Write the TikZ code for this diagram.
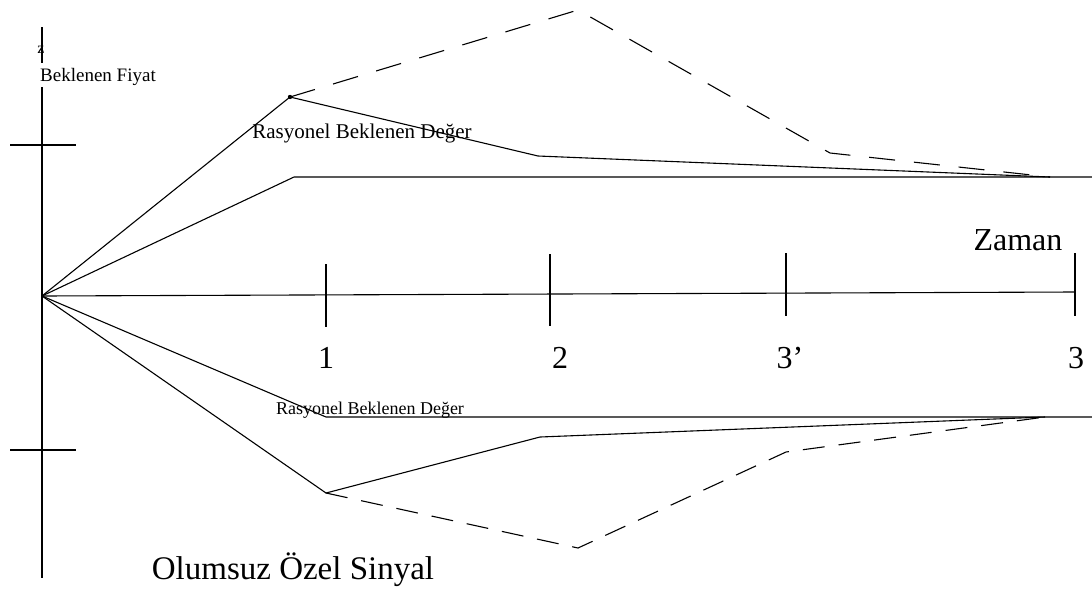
\documentclass[tikz,border=0pt]{standalone}
\usepackage{fontspec}
\setmainfont{Liberation Serif}
\begin{document}
\begin{tikzpicture}[x=1pt,y=-1pt,
  ln/.style={line width=1.1pt,black},
  dsh/.style={line width=1.1pt,black,dash pattern=on 26pt off 19pt},
  dshb/.style={line width=1.1pt,black,dash pattern=on 22pt off 14pt},
  lbl/.style={inner sep=0pt,anchor=center,text=black}]
\useasboundingbox (0,0) rectangle (1092,590);
% coordinates
\coordinate (O) at (42,296);
\coordinate (Vt) at (42,27);
\coordinate (Vg1) at (42,63);
\coordinate (Vg2) at (42,87);
\coordinate (Vb) at (42,578);
\coordinate (Tend) at (1074,292);
\coordinate (P1) at (290,97);
\coordinate (A2) at (538,156);
\coordinate (E) at (1050,177);
\coordinate (D2) at (578,10);
\coordinate (D3) at (830,153);
\coordinate (H1) at (294,177);
\coordinate (Hr) at (1092,177);
\coordinate (Q) at (326,493);
\coordinate (L1) at (326,417);
\coordinate (Lr) at (1092,417);
\coordinate (B2) at (540,437);
\coordinate (E2) at (1045,417);
\coordinate (DB2) at (578,548);
\coordinate (DB3) at (786,452);
% axes
\draw[ln] (Vt) -- (Vg1);
\draw[ln] (Vg2) -- (Vb);
\draw[ln] (O) -- (Tend);
\draw[ln] (10,145) -- (76,145);
\draw[ln] (10,450) -- (76,450);
\draw[ln] (326,264) -- (326,327);
\draw[ln] (550,254) -- (550,326);
\draw[ln] (786,253) -- (786,316);
\draw[ln] (1075,253) -- (1075,316);
% upper
\draw[ln] (O) -- (P1) -- (A2) -- (E);
\draw[ln] (O) -- (H1) -- (Hr);
\draw[dsh] (P1) -- (D2) -- (D3) -- (E);
\fill (P1) circle (2.2pt);
% lower
\draw[ln] (O) -- (L1) -- (Lr);
\draw[ln] (O) -- (Q) -- (B2) -- (E2);
\draw[dshb] (Q) -- (DB2) -- (DB3) -- (E2);
% labels
\node[lbl,font=\fontsize{16}{16}\selectfont] (z) at (41,50) {z};
\node[lbl,font=\fontsize{19}{19}\selectfont] (bf) at (98,77) {Beklenen Fiyat};
\node[lbl,font=\fontsize{21}{21}\selectfont] (r1) at (362,133) {Rasyonel Beklenen Değer};
\node[lbl,font=\fontsize{18}{18}\selectfont] (r2) at (370,410) {Rasyonel Beklenen Değer};
\node[lbl,font=\fontsize{32}{32}\selectfont] (zm) at (1018,240) {Zaman};
\node[lbl,font=\fontsize{32}{32}\selectfont] (t1) at (326,358) {1};
\node[lbl,font=\fontsize{32}{32}\selectfont] (t2) at (560,358) {2};
\node[lbl,font=\fontsize{32}{32}\selectfont] (t3p) at (790,358) {3’};
\node[lbl,font=\fontsize{32}{32}\selectfont] (t3) at (1076,358) {3};
\node[lbl,font=\fontsize{33}{33}\selectfont] (os) at (293,570) {Olumsuz Özel Sinyal};
\end{tikzpicture}
\end{document}
